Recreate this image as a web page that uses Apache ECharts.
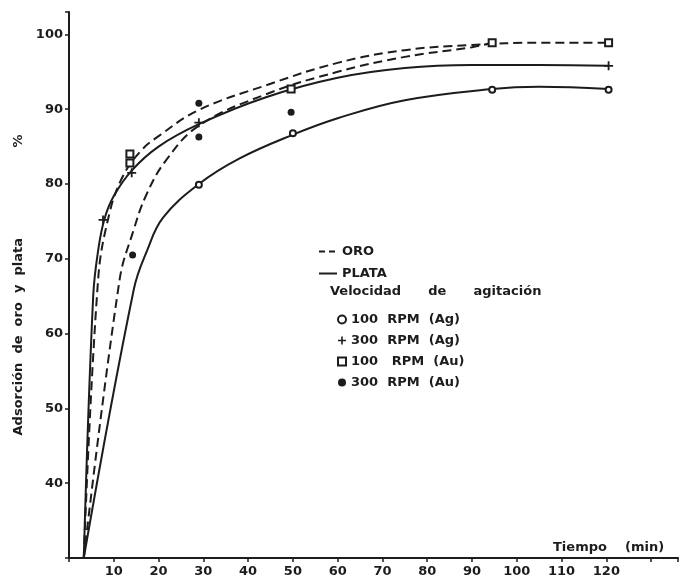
<!DOCTYPE html>
<html>
<head>
<meta charset="utf-8">
<script src="https://cdn.jsdelivr.net/npm/echarts@6/dist/echarts.min.js"></script>
<style>
    html, body {margin: 0; padding: 0; background: #fff;}
    #main {width: 681px; height: 581px;}
</style>
</head>
<body>
<div id="main"></div>
<script>
// 曲线数据 (tiempo en min, adsorción en %)
var oroAltoT = [3.3, 6.5, 9, 12, 16, 20, 29, 44, 60, 75, 90, 105, 120.5];
var oroAltoV = [30, 67.2, 76, 81, 84.4, 86.4, 89.9, 93.2, 96.2, 97.9, 98.6, 98.9, 98.9];
var oroBajoT = [3.3, 11.3, 14.3, 17.3, 21.7, 29, 44, 60, 75, 90, 94.5];
var oroBajoV = [30, 67.2, 73.6, 78.6, 83.2, 87.8, 92, 95, 97, 98.3, 98.9];
var plataAltoT = [3.3, 5.4, 6.6, 8, 10, 14, 20, 29, 44, 60, 75, 90, 105, 120.5];
var plataAltoV = [30, 65, 71.5, 75.5, 78.4, 81.8, 85, 88, 91.6, 94.2, 95.5, 95.9, 95.9, 95.8];
var plataBajoT = [3.3, 14.5, 17.5, 21, 29, 38, 50, 60, 75, 94.5, 105, 120.5];
var plataBajoV = [30, 66, 71.2, 75.5, 80, 83.4, 86.6, 88.8, 91.2, 92.7, 93, 92.7];

// puntos experimentales
var ag100T = [29, 50, 94.5, 120.5];
var ag100V = [79.9, 86.8, 92.6, 92.6];
var ag300T = [7.6, 14, 29, 120.5];
var ag300V = [75.2, 81.5, 88.2, 95.8];
var au100T = [13.6, 13.6, 49.6, 94.5, 120.5];
var au100V = [84, 82.8, 92.7, 98.9, 98.9];
var au300T = [14.2, 29, 29, 49.6];
var au300V = [70.5, 90.8, 86.3, 89.6];

var xLabels = [10, 20, 30, 40, 50, 60, 70, 80, 90, 100, 110, 120];
var yLabels = [40, 50, 60, 70, 80, 90, 100];

var ink = '#1c1c1c';
var font = 'DejaVu Sans';

function pares(t, v) {
    var list = [];
    for (var i = 0; i < t.length; i++) {
        list.push([t[i], v[i]]);
    }
    return list;
}

function linea(name, t, v, dashed) {
    return {
        name: name,
        type: 'line',
        data: pares(t, v),
        smooth: 0.4,
        symbol: 'none',
        silent: true,
        lineStyle: {color: ink, width: 2, type: dashed ? [9, 5] : 'solid'},
        itemStyle: {color: ink},
        z: 2
    };
}

function puntos(name, t, v, symbol, size, border) {
    return {
        name: name,
        type: 'scatter',
        data: pares(t, v),
        symbol: symbol,
        symbolSize: size,
        itemStyle: {color: ink, borderColor: ink, borderWidth: border, opacity: 1},
        z: 3
    };
}

var plus = 'path://M4,0 L6,0 L6,4 L10,4 L10,6 L6,6 L6,10 L4,10 L4,6 L0,6 L0,4 L4,4 Z';
var txt = {fontFamily: font, fontSize: 13, fontWeight: 'bold', color: ink};

var myChart = echarts.init(document.getElementById('main'));
var option = {
    backgroundColor: '#fff',
    animation: false,
    textStyle: {fontFamily: font, color: ink},
    grid: {left: 69, right: 0, top: 12, bottom: 23},
    title: {
        text: 'Velocidad      de      agitación',
        left: 330,
        top: 285,
        padding: 0,
        textStyle: txt
    },
    legend: [{
        data: [
            {name: 'ORO', lineStyle: {type: [6, 4], width: 2}},
            {name: 'PLATA', lineStyle: {type: 'solid', width: 2}}
        ],
        orient: 'vertical',
        left: 313,
        top: 240,
        itemWidth: 18,
        itemHeight: 12,
        itemGap: 9,
        itemStyle: {color: 'transparent', borderWidth: 0},
        textStyle: txt
    }, {
        data: ['100  RPM  (Ag)', '300  RPM  (Ag)', '100   RPM  (Au)', '300  RPM  (Au)'],
        orient: 'vertical',
        left: 332,
        top: 308,
        itemWidth: 8,
        itemHeight: 8,
        itemGap: 8,
        textStyle: txt
    }],
    xAxis: {
        type: 'value',
        min: 0,
        max: 136,
        interval: 10,
        name: 'Tiempo    (min)',
        nameLocation: 'end',
        nameGap: -125,
        nameTextStyle: {fontFamily: font, fontSize: 13, fontWeight: 'bold', color: ink,
            align: 'left', verticalAlign: 'bottom', padding: [0, 0, 4, 0]},
        axisLine: {lineStyle: {color: ink, width: 2}},
        axisTick: {show: true, length: 4, lineStyle: {color: ink, width: 1.5}},
        splitLine: {show: false},
        axisLabel: {
            fontFamily: font, fontSize: 13, fontWeight: 'bold', color: ink, margin: 7,
            formatter: function (value) {
                return xLabels.indexOf(value) !== -1 ? value : '';
            }
        }
    },
    yAxis: {
        type: 'value',
        min: 30,
        max: 103,
        interval: 10,
        name: 'Adsorción  de  oro  y  plata                    %',
        nameLocation: 'middle',
        nameRotate: 90,
        nameGap: 42,
        nameTextStyle: txt,
        axisLine: {show: true, lineStyle: {color: ink, width: 2}},
        axisTick: {show: true, length: 4, lineStyle: {color: ink, width: 1.5}},
        splitLine: {show: false},
        axisLabel: {
            fontFamily: font, fontSize: 13, fontWeight: 'bold', color: ink, margin: 6,
            formatter: function (value) {
                return yLabels.indexOf(value) !== -1 ? value : '';
            }
        }
    },
    series: [
        linea('ORO', oroAltoT, oroAltoV, true),
        linea('ORO', oroBajoT, oroBajoV, true),
        linea('PLATA', plataAltoT, plataAltoV, false),
        linea('PLATA', plataBajoT, plataBajoV, false),
        puntos('100  RPM  (Ag)', ag100T, ag100V, 'emptyCircle', 6, 2),
        puntos('300  RPM  (Ag)', ag300T, ag300V, plus, 9, 0),
        puntos('100   RPM  (Au)', au100T, au100V, 'emptyRect', 7, 1.5),
        puntos('300  RPM  (Au)', au300T, au300V, 'circle', 7, 0)
    ]
};
myChart.setOption(option);
</script>
</body>
</html>
